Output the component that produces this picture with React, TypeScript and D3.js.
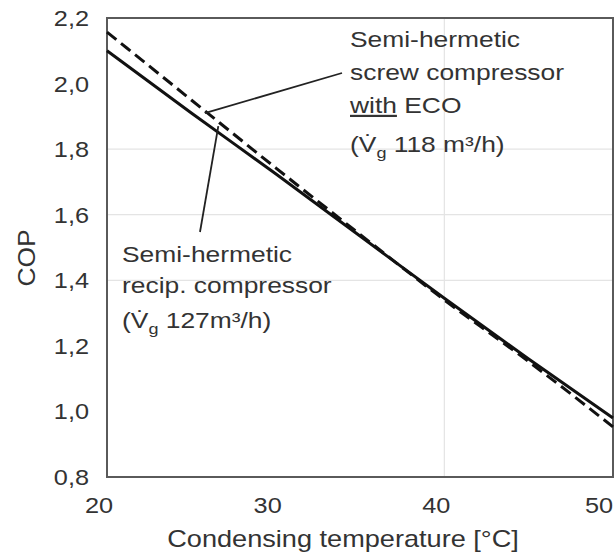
import React from 'react'
import * as d3 from 'd3'

const WIDTH = 616
const HEIGHT = 560
const PLOT = { left: 107, right: 613, top: 18, bottom: 477 }
const FONT = '"Liberation Sans", Arial, sans-serif'

// condensing temperature [°C]
const temps = [20, 25, 30, 35, 40, 45, 50]
// semi-hermetic recip. compressor (solid)
const copRecip = [2.1, 1.91, 1.725, 1.535, 1.345, 1.16, 0.98]
// semi-hermetic screw compressor with ECO (dashed)
const copScrew = [2.157, 1.95, 1.743, 1.54, 1.34, 1.152, 0.953]

const xTicks = [20, 30, 40, 50]
const yTicks = [0.8, 1.0, 1.2, 1.4, 1.6, 1.8, 2.0, 2.2]
const gridX = [40]
const gridY = [1.4, 1.6, 1.8]

const x = d3.scaleLinear().domain([20, 50]).range([PLOT.left, PLOT.right])
const y = d3.scaleLinear().domain([0.8, 2.2]).range([PLOT.bottom, PLOT.top])

const line = d3
  .line<number>()
  .x((_, i) => x(temps[i]))
  .y((d) => y(d))
  .curve(d3.curveMonotoneX)

const fmt = (v: number) => d3.format('.1f')(v).replace('.', ',')

function Stretched({ x, y, sx = 1.15, size, anchor = 'start', children, rotate = 0 }: any) {
  return (
    <text
      transform={`translate(${x},${y}) rotate(${rotate}) scale(${sx},1)`}
      fontFamily={FONT}
      fontSize={size}
      fill="#333"
      textAnchor={anchor}
    >
      {children}
    </text>
  )
}

function Vg() {
  return (
    <>
      {'(V\u0307'}
      <tspan fontSize={15} dy={6}>g</tspan>
      <tspan dy={-6}> </tspan>
    </>
  )
}

export default function App() {
  return (
    <svg
      width={WIDTH}
      height={HEIGHT}
      style={{ position: 'absolute', left: 0, top: 0, background: '#fff' }}
    >
      {gridY.map((v) => (
        <line key={'gy' + v} x1={PLOT.left} x2={PLOT.right} y1={y(v)} y2={y(v)} stroke="#e4e4e4" strokeWidth={1.2} />
      ))}
      {gridX.map((v) => (
        <line key={'gx' + v} x1={x(v)} x2={x(v)} y1={PLOT.top} y2={PLOT.bottom} stroke="#e4e4e4" strokeWidth={1.2} />
      ))}

      <rect
        x={PLOT.left}
        y={PLOT.top}
        width={PLOT.right - PLOT.left}
        height={PLOT.bottom - PLOT.top}
        fill="none"
        stroke="#5a5a5a"
        strokeWidth={2}
      />

      <path d={line(copRecip) ?? ''} fill="none" stroke="#111" strokeWidth={3} />
      <path d={line(copScrew) ?? ''} fill="none" stroke="#111" strokeWidth={3} strokeDasharray="12 6" />

      {yTicks.map((v) => (
        <Stretched key={'yt' + v} x={89} y={y(v) + 8} size={22} anchor="end">
          {fmt(v)}
        </Stretched>
      ))}
      {xTicks.map((v) => (
        <Stretched key={'xt' + v} x={Math.min(x(v) - 8, WIDTH - 17)} y={513} size={22} anchor="middle">
          {v}
        </Stretched>
      ))}

      <Stretched x={343} y={547} size={23} sx={1.18} anchor="middle">
        Condensing temperature [°C]
      </Stretched>
      <Stretched x={35} y={258} size={24} sx={1.1} anchor="middle" rotate={-90}>
        COP
      </Stretched>

      {/* leader lines */}
      <line x1={x(25.8)} y1={y(copScrew[1] - 0.04)} x2={342} y2={73} stroke="#222" strokeWidth={1.8} />
      <line x1={x(26.6)} y1={y(1.87)} x2={200} y2={232} stroke="#222" strokeWidth={1.8} />

      <Stretched x={350} y={47} size={22} sx={1.2}>Semi-hermetic</Stretched>
      <Stretched x={350} y={80} size={22} sx={1.2}>screw compressor</Stretched>
      <Stretched x={350} y={113} size={22} sx={1.2}>
        <tspan style={{ textDecoration: 'underline' }}>with</tspan> ECO
      </Stretched>
      <Stretched x={350} y={152} size={22} sx={1.2}>
        <Vg />
        118 m³/h)
      </Stretched>

      <Stretched x={122} y={262} size={22} sx={1.2}>Semi-hermetic</Stretched>
      <Stretched x={122} y={293} size={22} sx={1.2}>recip. compressor</Stretched>
      <Stretched x={122} y={328} size={22} sx={1.2}>
        <Vg />
        127m³/h)
      </Stretched>
    </svg>
  )
}
